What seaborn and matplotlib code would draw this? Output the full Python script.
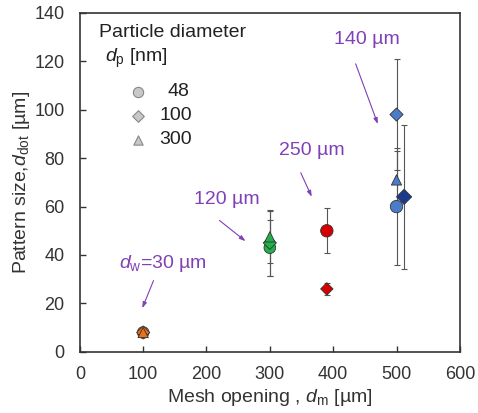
import pandas as pd
import seaborn as sns
import matplotlib.pyplot as plt

# valores
mesh = [100, 100, 100, 300, 300, 300, 390, 390, 500, 500, 500, 512]
dp = [48, 100, 300, 48, 100, 300, 48, 100, 48, 100, 300, 100]
dot = [8, 8, 8, 43, 45, 47.5, 50, 26, 60, 98, 71, 64]
dot_err = [1.5, 1.5, 1.5, 11.5, 13.7, 10.7, 9.3, 2.5, 24, 23, 12, 29.6]
grupo = ['30', '30', '30', '120', '120', '120', '250', '250', '140', '140', '140', '140b']
tamanho = [70, 45, 55, 70, 45, 55, 80, 40, 80, 45, 55, 60]

cores = {'30': '#E8731E', '120': '#22B04B', '250': '#D40000',
         '140': '#4A7CC9', '140b': '#1C3A8C'}
marcadores = {48: 'o', 100: 'D', 300: '^'}

df = pd.DataFrame({'mesh': mesh, 'dp': dp, 'dot': dot, 'err': dot_err,
                   'grupo': grupo, 'tam': tamanho})

sns.set_style('white')
plt.rcParams['font.family'] = ['Liberation Sans', 'DejaVu Sans']
plt.rcParams['mathtext.fontset'] = 'custom'
plt.rcParams['mathtext.rm'] = 'Liberation Sans'
plt.rcParams['mathtext.it'] = 'Liberation Sans:italic'

fig = plt.figure(figsize=(4.78, 4.13), dpi=100)
ax = fig.add_axes([0.167, 0.148, 0.795, 0.821])

ax.errorbar(df['mesh'], df['dot'], yerr=df['err'], fmt='none', ecolor='#555555',
            elinewidth=0.8, capsize=2.5, capthick=0.8, zorder=1)
sns.scatterplot(data=df, x='mesh', y='dot', hue='grupo', style='dp', size='tam',
                sizes=(40, 80), palette=cores, markers=marcadores,
                edgecolor='#333333', linewidth=0.6, legend=False, ax=ax, zorder=3)

ax.set_xlim(0, 600)
ax.set_ylim(0, 140)
ax.set_xticks(range(0, 601, 100))
ax.set_yticks(range(0, 141, 20))
ax.tick_params(direction='in', length=4, width=1, labelsize=13, colors='#333333',
               bottom=True, left=True)
ax.tick_params(axis='x', pad=10)
ax.tick_params(axis='y', pad=11)
for s in ax.spines.values():
    s.set_color('#333333')
    s.set_linewidth(1.2)
ax.set_xlabel('Mesh opening , $d_\\mathrm{m}$ [µm]', fontsize=14, color='#333333', labelpad=3)
ax.set_ylabel('Pattern size,$d_\\mathrm{dot}$ [µm]', fontsize=14, color='#333333', labelpad=2)

# legenda manual
ax.text(30, 132, 'Particle diameter', fontsize=14, color='#222222', va='center')
ax.text(40, 121, '$d_\\mathrm{p}$ [nm]', fontsize=14, color='#222222', va='center')
for i, (d, m) in enumerate(marcadores.items()):
    y = 107.5 - i * 10
    ax.scatter([92], [y], marker=m, s=[55, 35, 45][i], color='#C8C8C8',
               edgecolor='#888888', linewidth=0.8)
    ax.text(139 if d < 100 else 126, y, str(d), fontsize=14, color='#222222', va='center')

roxo = '#8040B8'
notas = [('140 µm', (453, 129), (434, 120), (472, 93)),
         ('250 µm', (367, 83), (347, 75), (368, 63)),
         ('120 µm', (232, 63), (217, 55), (265, 45)),
         ('$d_\\mathrm{w}$=30 µm', (131, 36.5), (118, 30.5), (97, 17))]
for txt, pos, ini, fim in notas:
    ax.text(pos[0], pos[1], txt, fontsize=14, color=roxo, ha='center', va='center')
    ax.annotate('', xy=fim, xytext=ini,
                arrowprops=dict(arrowstyle='-|>,head_length=0.35,head_width=0.12',
                                color=roxo, lw=0.8))

plt.savefig('out.png', dpi=100)
